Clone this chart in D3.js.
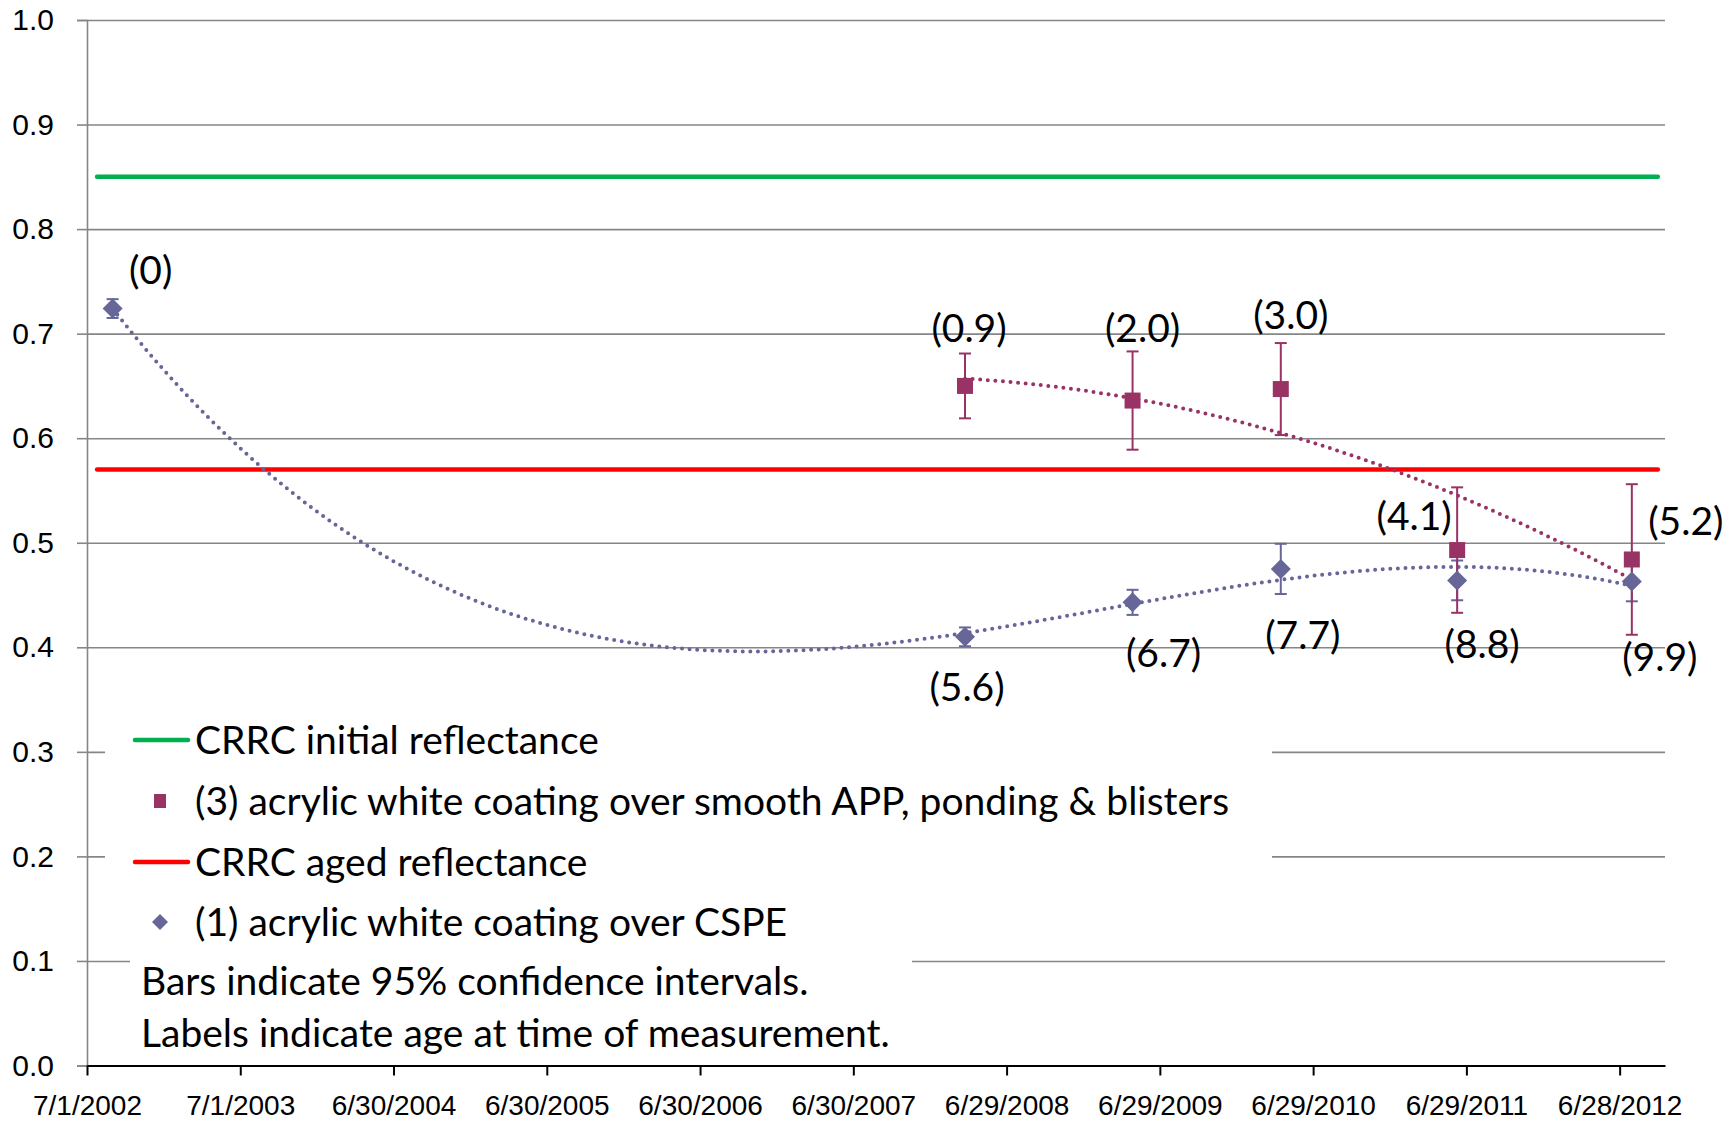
<!DOCTYPE html>
<html>
<head>
<meta charset="utf-8">
<script src="https://cdn.jsdelivr.net/npm/d3@7"></script>
<style>
  html, body { margin: 0; padding: 0; background: #ffffff; }
  svg { display: block; font-family: Lato, "Open Sans", sans-serif; }
</style>
</head>
<body>
<svg id="chart" width="1732" height="1127"></svg>
<script>
// ---- data -------------------------------------------------------------
// Measurement dates shared by both coated roof sections
const measureDates = ["2002-08-31", "2008-03-22", "2009-04-25", "2010-04-13", "2011-06-07", "2012-07-27"];

// (1) acrylic white coating over CSPE
const cspeValues = [0.724, 0.410, 0.443, 0.475, 0.464, 0.463];
const cspeCI     = [0.009, 0.009, 0.012, 0.024, 0.019, 0.019];
const cspeAges   = ["(0)", "(5.6)", "(6.7)", "(7.7)", "(8.8)", "(9.9)"];

// (3) acrylic white coating over smooth APP, measured from the second date on
const appDates  = measureDates.slice(1);
const appValues = [0.650, 0.636, 0.647, 0.493, 0.484];
const appCI     = [0.031, 0.047, 0.044, 0.060, 0.072];
const appAges   = ["(0.9)", "(2.0)", "(3.0)", "(4.1)", "(5.2)"];

// CRRC reference reflectance levels
const crrcSpan    = ["2002-07-25", "2012-09-27"];
const crrcInitial = 0.85;
const crrcAged    = 0.57;

// Axes
const xDomainDates = ["2002-07-01", "2012-10-14"];
const xTickDates = ["2002-07-01", "2003-07-01", "2004-06-30", "2005-06-30", "2006-06-30",
                    "2007-06-30", "2008-06-29", "2009-06-29", "2010-06-29", "2011-06-29", "2012-06-28"];
const yTickValues = [0, 0.1, 0.2, 0.3, 0.4, 0.5, 0.6, 0.7, 0.8, 0.9, 1.0];

const legendLabels = {
  initial: "CRRC initial reflectance",
  app: "(3) acrylic white coating over smooth APP, ponding & blisters",
  aged: "CRRC aged reflectance",
  cspe: "(1) acrylic white coating over CSPE"
};
const noteLines = ["Bars indicate 95% confidence intervals.",
                   "Labels indicate age at time of measurement."];

// ---- layout (label placement relative to each marker) ------------------
const cspeLabelOffset = [[38, -25], [2, 64], [31, 65], [22, 80], [25, 78], [28, 90]];
const appLabelOffset  = [[4, -44], [10, -59], [10, -60], [-43, -20], [54, -24]];

const colors = {
  grid: "#868686",
  cspe: "#666699",
  app: "#993366",
  initial: "#00b050",
  aged: "#ff0000"
};

const plot = { left: 87, right: 1665, top: 20, bottom: 1065.5 };

// ---- scales -----------------------------------------------------------
const parse = d3.utcParse("%Y-%m-%d");
const x = d3.scaleUtc().domain(xDomainDates.map(parse)).range([plot.left, plot.right]);
const y = d3.scaleLinear().domain([0, 1]).range([plot.bottom, plot.top]);

const svg = d3.select("#chart");

// ---- gridlines & y axis ----------------------------------------------
const gridAxis = d3.axisLeft(y).tickValues(yTickValues)
  .tickSizeInner(-(plot.right - plot.left)).tickSizeOuter(0).tickFormat("");
svg.append("g").attr("transform", `translate(${plot.left},0)`).call(gridAxis)
  .call(g => g.select(".domain").remove())
  .call(g => g.selectAll("line").attr("stroke", colors.grid).attr("stroke-width", 1.6));

const yAxis = d3.axisLeft(y).tickValues(yTickValues).tickSize(10).tickPadding(23)
  .tickFormat(d3.format(".1f"));
svg.append("g").attr("transform", `translate(${plot.left},0)`).call(yAxis)
  .call(g => g.select(".domain").attr("stroke", colors.grid).attr("stroke-width", 1.6))
  .call(g => g.selectAll("line").attr("stroke", colors.grid).attr("stroke-width", 1.6))
  .call(g => g.selectAll("text").attr("fill", "#000").style("font-size", "30px")
                .attr("font-family", null));

// ---- legend & note panels (drawn over the gridlines) --------------------
const legend = svg.append("g");
legend.append("rect").attr("x", 105).attr("y", 712).attr("width", 1167).attr("height", 238).attr("fill", "#fff");
const notes = svg.append("g");
notes.append("rect").attr("x", 130).attr("y", 946).attr("width", 782).attr("height", 114).attr("fill", "#fff");

// ---- x axis -----------------------------------------------------------
const xAxis = d3.axisBottom(x).tickValues(xTickDates.map(parse)).tickSize(10).tickPadding(20)
  .tickSizeOuter(0).tickFormat(d3.utcFormat("%-m/%-d/%Y"));
svg.append("g").attr("transform", `translate(0,${plot.bottom})`).call(xAxis)
  .call(g => g.select(".domain").attr("stroke", "#000").attr("stroke-width", 2.2))
  .call(g => g.selectAll("line").attr("stroke", "#000").attr("stroke-width", 2))
  .call(g => g.selectAll("text").attr("fill", "#000").style("font-size", "28px")
                .attr("font-family", null));

// ---- CRRC reference lines ---------------------------------------------
[[crrcInitial, colors.initial], [crrcAged, colors.aged]].forEach(([v, c]) => {
  svg.append("line")
    .attr("x1", x(parse(crrcSpan[0]))).attr("x2", x(parse(crrcSpan[1])))
    .attr("y1", y(v)).attr("y2", y(v))
    .attr("stroke", c).attr("stroke-width", 4.5).attr("stroke-linecap", "round");
});

// ---- polynomial trendlines (least squares) ----------------------------
function polyFit(xs, ys, order) {
  const n = order + 1;
  const A = Array.from({ length: n }, () => new Array(n + 1).fill(0));
  xs.forEach((xv, k) => {
    for (let i = 0; i < n; i++) {
      for (let j = 0; j < n; j++) A[i][j] += Math.pow(xv, i + j);
      A[i][n] += Math.pow(xv, i) * ys[k];
    }
  });
  for (let c = 0; c < n; c++) {
    let p = c;
    for (let r = c + 1; r < n; r++) if (Math.abs(A[r][c]) > Math.abs(A[p][c])) p = r;
    [A[c], A[p]] = [A[p], A[c]];
    for (let r = 0; r < n; r++) {
      if (r === c) continue;
      const f = A[r][c] / A[c][c];
      for (let k = c; k <= n; k++) A[r][k] -= f * A[c][k];
    }
  }
  return A.map((row, i) => row[n] / row[i]);
}

const yearMs = 365.25 * 24 * 3600 * 1000;
function trendPoints(dates, values, order) {
  const t0 = parse(dates[0]).getTime();
  const ts = dates.map(d => (parse(d).getTime() - t0) / yearMs);
  const coef = polyFit(ts, values, order);
  const tEnd = ts[ts.length - 1];
  return d3.range(0, 241).map(i => {
    const t = tEnd * i / 240;
    const v = coef.reduce((s, c, k) => s + c * Math.pow(t, k), 0);
    return [x(new Date(t0 + t * yearMs)), y(v)];
  });
}

const line = d3.line();
svg.append("path").attr("d", line(trendPoints(measureDates, cspeValues, 3)))
  .attr("fill", "none").attr("stroke", colors.cspe).attr("stroke-width", 4)
  .attr("stroke-linecap", "round").attr("stroke-dasharray", "0 7.6");
svg.append("path").attr("d", line(trendPoints(appDates, appValues, 2)))
  .attr("fill", "none").attr("stroke", colors.app).attr("stroke-width", 4)
  .attr("stroke-linecap", "round").attr("stroke-dasharray", "0 7.6");

// ---- error bars ---------------------------------------------------------
function errorBars(dates, values, ci, color) {
  const g = svg.append("g").attr("stroke", color).attr("stroke-width", 2);
  dates.forEach((d, i) => {
    const cx = x(parse(d));
    const y1 = y(values[i] + ci[i]), y2 = y(values[i] - ci[i]);
    g.append("line").attr("x1", cx).attr("x2", cx).attr("y1", y1).attr("y2", y2);
    g.append("line").attr("x1", cx - 6).attr("x2", cx + 6).attr("y1", y1).attr("y2", y1);
    g.append("line").attr("x1", cx - 6).attr("x2", cx + 6).attr("y1", y2).attr("y2", y2);
  });
}
errorBars(measureDates, cspeValues, cspeCI, colors.cspe);
errorBars(appDates, appValues, appCI, colors.app);

// ---- markers ------------------------------------------------------------
const diamond = s => `M0,${-s}L${s},0L0,${s}L${-s},0Z`;
svg.append("g").selectAll("path").data(appDates).join("path")
  .attr("transform", (d, i) => `translate(${x(parse(d))},${y(appValues[i])})`)
  .attr("d", "M-8,-8H8V8H-8Z").attr("fill", colors.app);
svg.append("g").selectAll("path").data(measureDates).join("path")
  .attr("transform", (d, i) => `translate(${x(parse(d))},${y(cspeValues[i])})`)
  .attr("d", diamond(10)).attr("fill", colors.cspe);

// ---- age labels ----------------------------------------------------------
function ageLabels(dates, values, labels, offsets) {
  svg.append("g").selectAll("text").data(labels).join("text")
    .attr("x", (d, i) => x(parse(dates[i])) + offsets[i][0])
    .attr("y", (d, i) => y(values[i]) + offsets[i][1])
    .attr("text-anchor", "middle").style("font-size", "39px").attr("fill", "#000")
    .text(d => d);
}
ageLabels(measureDates, cspeValues, cspeAges, cspeLabelOffset);
ageLabels(appDates, appValues, appAges, appLabelOffset);

// ---- legend entries ----------------------------------------------------------
const rowY = [740, 801, 862, 922];
const textX = 195;
legend.append("line").attr("x1", 135).attr("x2", 188).attr("y1", rowY[0]).attr("y2", rowY[0])
  .attr("stroke", colors.initial).attr("stroke-width", 4.5).attr("stroke-linecap", "round");
legend.append("rect").attr("x", 154).attr("y", rowY[1] - 7).attr("width", 12).attr("height", 14)
  .attr("fill", colors.app);
legend.append("line").attr("x1", 135).attr("x2", 188).attr("y1", rowY[2]).attr("y2", rowY[2])
  .attr("stroke", colors.aged).attr("stroke-width", 4.5).attr("stroke-linecap", "round");
legend.append("path").attr("transform", `translate(160,${rowY[3]})`).attr("d", diamond(8))
  .attr("fill", colors.cspe);
[legendLabels.initial, legendLabels.app, legendLabels.aged, legendLabels.cspe].forEach((t, i) => {
  legend.append("text").attr("x", textX).attr("y", rowY[i] + 14)
    .style("font-size", "39px").attr("fill", "#000").text(t);
});

// ---- notes ------------------------------------------------------------------
noteLines.forEach((t, i) => {
  notes.append("text").attr("x", 141).attr("y", 995 + i * 52)
    .style("font-size", "39px").attr("fill", "#000").text(t);
});
</script>
</body>
</html>
